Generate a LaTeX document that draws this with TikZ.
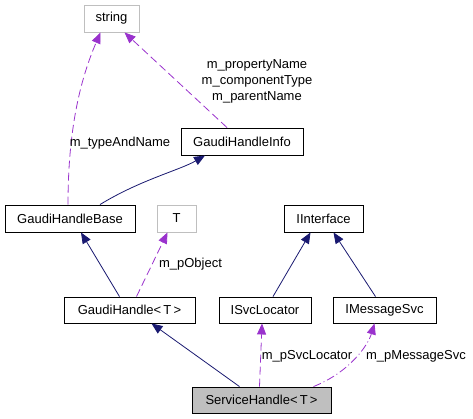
\documentclass[tikz,border=0pt]{standalone}
\usepackage{fontspec}
\setmainfont{Liberation Sans}
\usetikzlibrary{arrows.meta}
\definecolor{navy}{RGB}{25,25,112}
\definecolor{purp}{RGB}{154,50,205}
\definecolor{gbord}{RGB}{191,191,191}
\begin{document}
\begin{tikzpicture}[x=1bp,y=-1bp,
  font=\fontsize{13bp}{16bp}\selectfont,
  box/.style={draw=black,line width=0.9bp,rectangle,minimum height=27bp,inner sep=2bp,fill=white},
  gbox/.style={box,draw=gbord},
  inh/.style={navy,line width=0.8bp,-{Triangle[length=11bp,width=9bp]}},
  use/.style={purp,line width=0.8bp,dash pattern=on 8bp off 4bp,-{Triangle[length=11bp,width=9bp]}},
  usedd/.style={purp,line width=0.8bp,dash pattern=on 8bp off 3bp on 1bp off 3bp,-{Triangle[length=11bp,width=9bp]}},
  lbl/.style={inner sep=0pt,align=center}]
\useasboundingbox (0,0) rectangle (473,418);
\node[gbox,minimum width=55bp] (string) at (111.5,18.5) {string};
\node[box,minimum width=122bp] (ginfo) at (242,141.5) {GaudiHandleInfo};
\node[box,minimum width=130bp] (gbase) at (70,218.5) {GaudiHandleBase};
\node[gbox,minimum width=39bp] (T) at (176.5,218.5) {T};
\node[box,minimum width=79bp] (iint) at (323.5,218.5) {IInterface};
\node[box,minimum width=131bp,minimum height=26bp] (gh) at (129.5,310) {GaudiHandle\textless\,T\,\textgreater};
\node[box,minimum width=92bp,minimum height=26bp] (isvc) at (265,310) {ISvcLocator};
\node[box,minimum width=103bp,minimum height=26bp] (imsg) at (384.5,310) {IMessageSvc};
\node[box,fill=gbord,minimum width=139bp,minimum height=26bp] (sh) at (261.5,400) {ServiceHandle\textless\,T\,\textgreater};

\draw[use] ([xshift=-2bp]gbase.north) .. controls (68,130) and (80,80) .. ([xshift=-11bp]string.south);
\draw[use] ([xshift=-15bp]ginfo.north) -- ([xshift=13bp]string.south);
\draw[inh] ([xshift=30bp]gbase.north) .. controls (140,180) and (180,170) .. ([xshift=-37bp]ginfo.south);
\draw[inh] ([xshift=-10bp]gh.north) -- ([xshift=11bp]gbase.south);
\draw[use] ([xshift=7bp]gh.north) -- ([xshift=-9bp]T.south);
\draw[inh] ([xshift=-22bp]sh.north) -- ([xshift=22bp]gh.south);
\draw[use] ([xshift=-2bp]sh.north) -- ([xshift=-3bp]isvc.south);
\draw[usedd] ([xshift=52bp]sh.north) .. controls (350,372) and (368,345) .. ([xshift=-10bp]imsg.south);
\draw[inh] ([xshift=8bp]isvc.north) -- ([xshift=-13bp]iint.south);
\draw[inh] ([xshift=-9bp]imsg.north) -- ([xshift=10bp]iint.south);

\node[lbl] (l1) at (120,143) {m\_typeAndName};
\node[lbl] (l2) at (257,81) {m\_propertyName\\m\_componentType\\m\_parentName};
\node[lbl] (l3) at (190.5,264) {m\_pObject};
\node[lbl] (l4) at (307,356) {m\_pSvcLocator};
\node[lbl] (l5) at (416,356) {m\_pMessageSvc};
\end{tikzpicture}
\end{document}
